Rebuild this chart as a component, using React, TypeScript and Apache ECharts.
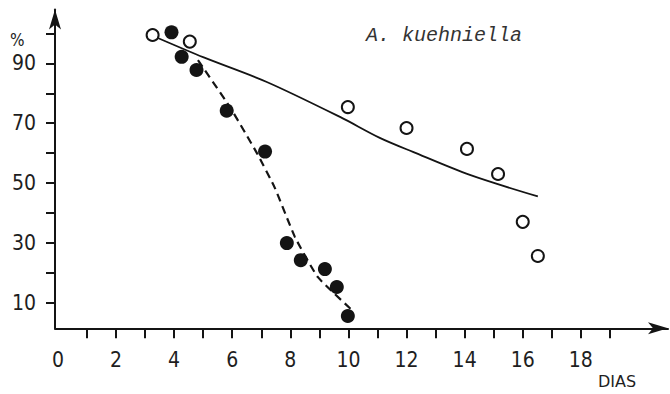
import React, { useEffect, useRef } from "react";
import * as echarts from "echarts";

const openPoints: number[][] = [
  [3.26, 99.5], [4.54, 97.3], [9.98, 75.4], [12.0, 68.4],
  [14.08, 61.4], [15.15, 53.0], [16.0, 37.0], [16.52, 25.6],
];
const filledPoints: number[][] = [
  [3.91, 100.4], [4.26, 92.2], [4.77, 87.8], [5.81, 74.2], [7.13, 60.5],
  [7.88, 29.9], [8.36, 24.2], [9.19, 21.2], [9.6, 15.2], [9.98, 5.5],
];
const solidFit: number[][] = [
  [3.44, 98.5], [5.02, 92.0], [7.19, 83.8], [9.71, 72.1], [11.08, 65.1],
  [12.22, 60.4], [14.18, 52.7], [16.52, 45.5],
];
const dashedFit: number[][] = [
  [4.82, 91.1], [5.92, 75.4], [6.85, 60.0], [7.47, 48.3],
  [8.16, 31.9], [8.95, 18.5], [10.12, 7.5],
];
const xTicks = [1, 2, 3, 4, 5, 6, 7, 8, 9, 10, 11, 12, 13, 14, 15, 16, 17, 18, 19];
const xLabels = [0, 2, 4, 6, 8, 10, 12, 14, 16, 18];
const yTicks = [10, 20, 30, 40, 50, 60, 70, 80, 90, 100];
const yLabels = [10, 30, 50, 70, 90];

const INK = "#141414";
const LABEL_FONT = "'DejaVu Sans Condensed', 'Liberation Sans Narrow', sans-serif";

export default function App() {
  const ref = useRef<HTMLDivElement>(null);
  useEffect(() => {
    if (!ref.current) return;
    const chart = echarts.init(ref.current, undefined, { renderer: "svg" });
    chart.setOption({
      animation: false,
      backgroundColor: "#ffffff",
      grid: { left: 55, top: 9.6, width: 613, height: 318.7 },
      xAxis: {
        type: "value",
        min: -0.1,
        max: 21,
        axisLine: {
          show: true,
          onZero: false,
          symbol: ["none", "arrow"],
          symbolSize: [9, 20],
          lineStyle: { color: INK, width: 2 },
        },
        axisTick: { show: true, customValues: xTicks, length: 10, lineStyle: { color: INK, width: 2 } },
        axisLabel: {
          customValues: xLabels,
          margin: 21,
          color: "#1e1e1e",
          fontSize: 21,
          fontFamily: LABEL_FONT,
        },
        splitLine: { show: false },
      },
      yAxis: {
        type: "value",
        min: 1.4,
        max: 108,
        axisLine: {
          show: true,
          onZero: false,
          symbol: ["none", "arrow"],
          symbolSize: [9, 20],
          lineStyle: { color: INK, width: 2 },
        },
        axisTick: { show: true, customValues: yTicks, length: 9, lineStyle: { color: INK, width: 2 } },
        axisLabel: {
          customValues: yLabels,
          margin: 19,
          color: "#1e1e1e",
          fontSize: 21,
          fontFamily: LABEL_FONT,
        },
        splitLine: { show: false },
      },
      graphic: [
        {
          type: "text",
          left: 10,
          top: 31,
          style: { text: "%", fontSize: 17, fontFamily: LABEL_FONT, fill: "#1e1e1e" },
        },
        {
          type: "text",
          left: 366,
          top: 25,
          style: {
            text: "A. kuehniella",
            fontSize: 20,
            fontStyle: "italic",
            fontFamily: "'Liberation Mono', 'DejaVu Sans Mono', monospace",
            fill: "#333333",
          },
        },
        {
          type: "text",
          left: 598,
          top: 373,
          style: { text: "DIAS", fontSize: 16, fontFamily: "'DejaVu Sans', sans-serif", fill: "#1e1e1e" },
        },
      ],
      series: [
        {
          type: "line",
          data: solidFit,
          showSymbol: false,
          smooth: 0.3,
          lineStyle: { color: INK, width: 1.8 },
          z: 1,
        },
        {
          type: "line",
          data: dashedFit,
          showSymbol: false,
          smooth: 0.15,
          lineStyle: { color: INK, width: 2.2, type: [8, 5] },
          z: 1,
        },
        {
          type: "scatter",
          data: openPoints,
          symbol: "circle",
          symbolSize: 12,
          itemStyle: { color: "#ffffff", borderColor: INK, borderWidth: 2, opacity: 1 },
          z: 3,
        },
        {
          type: "scatter",
          data: filledPoints,
          symbol: "circle",
          symbolSize: 14,
          itemStyle: { color: INK, opacity: 1 },
          z: 3,
        },
      ],
    });
    return () => chart.dispose();
  }, []);
  return (
    <div
      ref={ref}
      style={{ position: "fixed", left: 0, top: 0, width: 670, height: 394, background: "#fff" }}
    />
  );
}
